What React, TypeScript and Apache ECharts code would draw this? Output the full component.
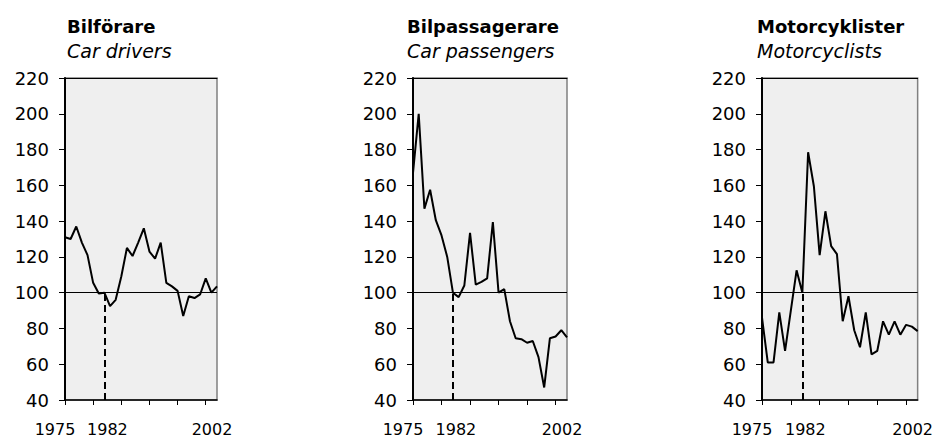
import React, { useEffect, useRef } from 'react';
import * as echarts from 'echarts';

const years = ['1975','1976','1977','1978','1979','1980','1981','1982','1983','1984','1985','1986','1987','1988','1989','1990','1991','1992','1993','1994','1995','1996','1997','1998','1999','2000','2001','2002'];
const shownYears = ['1975', '1982', '2002'];
const titlesSv = ['Bilförare', 'Bilpassagerare', 'Motorcyklister'];
const titlesEn = ['Car drivers', 'Car passengers', 'Motorcyclists'];

const carDrivers = [131, 130, 137, 128, 121, 105.5, 99.5, 100, 92.5, 96, 109, 125, 120.5, 128, 136, 123, 119, 128, 105.5, 103.5, 101, 87, 98, 97, 99, 108, 100, 103.5];
const carPassengers = [167, 200, 147, 157.5, 140.5, 132, 120, 100, 97.5, 104, 133.5, 104.5, 106, 108, 139.5, 100, 102, 84, 74.5, 74, 72, 73, 64, 47, 74.5, 75.5, 79, 75];
const motorcyclists = [86, 61, 61, 89, 67.5, 90, 112.5, 100, 178.5, 159.5, 121, 145.5, 126, 121.5, 84, 98, 79, 69.5, 89, 65.5, 67.5, 84, 76.5, 84, 76.5, 82, 81, 78.5];

const panelValues = [carDrivers, carPassengers, motorcyclists];
const baseYear = '1982';
const baseValue = 100;
const yMin = 40;
const yMax = 220;
const yStep = 20;

const FONT = 'DejaVu Sans';

export default function App() {
  const ref = useRef<HTMLDivElement>(null);
  useEffect(() => {
    if (!ref.current) return;
    const chart = echarts.init(ref.current, null, { renderer: 'svg' });
    const grids = [
      { left: 65, width: 152 },
      { left: 413, width: 154 },
      { left: 762, width: 157 },
    ];
    const titleX = [67, 407, 757];
    const option: any = {
      animation: false,
      backgroundColor: '#ffffff',
      grid: grids.map((g) => ({
        left: g.left, width: g.width, top: 78, height: 322,
        show: true, backgroundColor: '#efefef', borderColor: '#808080', borderWidth: 1.5,
      })),
      xAxis: [] as any[],
      yAxis: [] as any[],
      series: [] as any[],
      graphic: [] as any[],
    };
    grids.forEach((_, k) => {
      option.xAxis.push({
        type: 'category', gridIndex: k, data: years, boundaryGap: false,
        axisLine: { show: true, lineStyle: { color: '#000', width: 1.5 } },
        axisTick: { show: true, length: 5, lineStyle: { color: '#000', width: 1 },
          interval: (i: number) => i % 5 === 0 },
        axisLabel: {
          show: true, margin: 21,
          interval: (_i: number, v: string) => shownYears.indexOf(v) >= 0,
          formatter: (v: string) => v === shownYears[0] ? '{l|' + v + '}' : v === shownYears[2] ? '{r|' + v + '}' : '{c|' + v + '}',
          rich: {
            l: { fontFamily: FONT, fontSize: 16, color: '#000', padding: [0, 20, 0, 0] },
            c: { fontFamily: FONT, fontSize: 16, color: '#000', padding: [0, 0, 0, 6] },
            r: { fontFamily: FONT, fontSize: 16, color: '#000', padding: [0, 10, 0, 0] },
          },
        },
        splitLine: { show: false },
      });
      option.xAxis.push({
        type: 'category', gridIndex: k, data: years, boundaryGap: false, position: 'top',
        axisLine: { show: true, lineStyle: { color: '#000', width: 1 } },
        axisTick: { show: false }, axisLabel: { show: false }, splitLine: { show: false },
      });
      option.yAxis.push({
        type: 'value', gridIndex: k, min: yMin, max: yMax, interval: yStep,
        axisLine: { show: true, lineStyle: { color: '#000', width: 2 } },
        axisTick: { show: true, length: 6, lineStyle: { color: '#000', width: 1 } },
        axisLabel: { show: true, margin: 16, fontFamily: FONT, fontSize: 18, color: '#000' },
        splitLine: { show: false },
      });
      option.series.push({
        type: 'line', xAxisIndex: k * 2, yAxisIndex: k, data: panelValues[k],
        symbol: 'none', lineStyle: { color: '#000', width: 2 }, z: 5,
        markLine: {
          silent: true, symbol: 'none', label: { show: false }, animation: false,
          data: [
            { yAxis: baseValue, lineStyle: { color: '#000', width: 1, type: 'solid' } },
            [
              { coord: [baseYear, yMin], lineStyle: { color: '#000', width: 2, type: [7, 4] } },
              { coord: [baseYear, baseValue] },
            ],
          ],
        },
      });
      option.graphic.push({
        type: 'text', left: titleX[k], top: 17,
        style: { text: titlesSv[k], fontFamily: FONT, fontSize: 18, fontWeight: 'bold', fill: '#000' },
      });
      option.graphic.push({
        type: 'text', left: titleX[k], top: 41,
        style: { text: titlesEn[k], fontFamily: FONT, fontSize: 19, fontStyle: 'italic', fill: '#000' },
      });
    });
    chart.setOption(option);
    return () => chart.dispose();
  }, []);
  return <div ref={ref} style={{ position: 'fixed', left: 0, top: 0, width: 936, height: 437 }} />;
}
